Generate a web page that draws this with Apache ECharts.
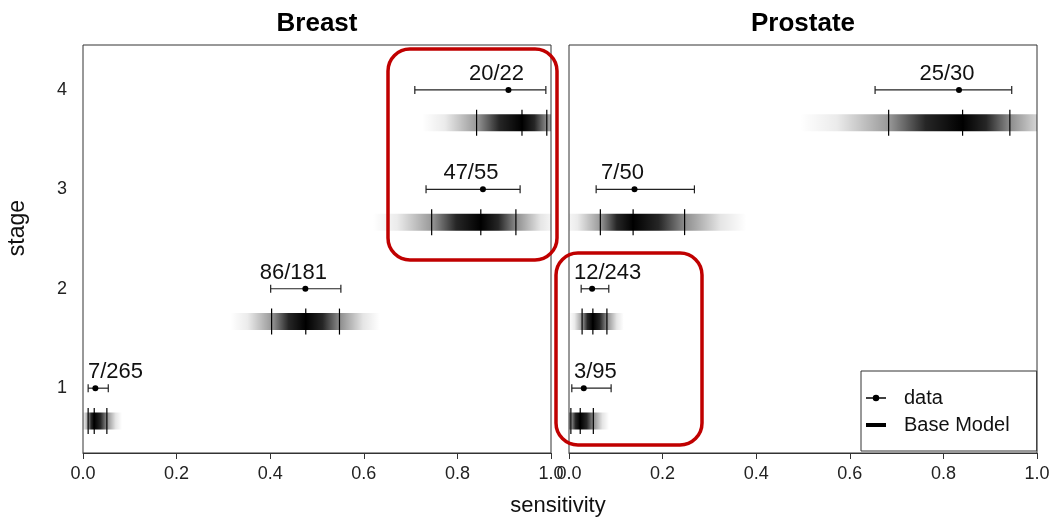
<!DOCTYPE html>
<html>
<head>
<meta charset="utf-8">
<script src="https://cdn.jsdelivr.net/npm/echarts@6/dist/echarts.min.js"></script>
<style>
html, body { margin: 0; padding: 0; background: #fff; }
#main { width: 1053px; height: 519px; }
</style>
</head>
<body>
<div id="main"></div>
<script>
// stages on the y axis
var stages = [1, 2, 3, 4];

// Breast: detected / total, data CI, base model interval (lo, median, hi)
var breastPos = [7, 86, 47, 20];
var breastTotal = [265, 181, 55, 22];
var breastCiLo = [0.011, 0.401, 0.733, 0.709];
var breastCiHi = [0.054, 0.551, 0.934, 0.989];
var breastModelLo = [0.011, 0.403, 0.745, 0.841];
var breastModelMid = [0.024, 0.476, 0.850, 0.938];
var breastModelHi = [0.051, 0.548, 0.925, 0.991];

// Prostate
var prostatePos = [3, 12, 7, 25];
var prostateTotal = [95, 243, 50, 30];
var prostateCiLo = [0.006, 0.026, 0.058, 0.654];
var prostateCiHi = [0.090, 0.085, 0.268, 0.946];
var prostateModelLo = [0.004, 0.028, 0.067, 0.683];
var prostateModelMid = [0.024, 0.051, 0.137, 0.841];
var prostateModelHi = [0.052, 0.081, 0.247, 0.942];

var FONT = '"Liberation Sans", Arial, sans-serif';
// shading of the model bar, position in units of (mid-lo) / (hi-mid)
var SHADE = [[-2.2, 0], [-1.7, 0.08], [-1, 0.4], [-0.5, 0.85], [0, 1], [0.5, 0.85], [1, 0.45], [1.7, 0.1], [2.2, 0]];
var MODEL_OFFSET = 0.33;
var LABEL_SIZE = 22;

var measureCtx = document.createElement('canvas').getContext('2d');
function textWidth(txt, size) {
    measureCtx.font = size + 'px ' + FONT;
    return measureCtx.measureText(txt).width;
}

function modelData(lo, mid, hi) {
    return stages.map(function (s, i) { return [s, lo[i], mid[i], hi[i]]; });
}
function pointData(pos, total, lo, hi) {
    return stages.map(function (s, i) { return [s, pos[i] / total[i], lo[i], hi[i]]; });
}

function renderModel(params, api) {
    var y = api.value(0) - MODEL_OFFSET;
    var lo = api.value(1), mid = api.value(2), hi = api.value(3);
    var a = mid + SHADE[0][0] * (mid - lo);
    var b = mid + SHADE[SHADE.length - 1][0] * (hi - mid);
    var pA = api.coord([a, y]), pB = api.coord([b, y]);
    var cs = params.coordSys;
    var x0 = Math.max(pA[0], cs.x), x1 = Math.min(pB[0], cs.x + cs.width);
    var stops = SHADE.map(function (s) {
        var v = mid + s[0] * (s[0] < 0 ? mid - lo : hi - mid);
        return { offset: (v - a) / (b - a), color: 'rgba(0,0,0,' + s[1] + ')' };
    });
    var barH = 17, tickH = 26;
    var cy = pA[1];
    var children = [{
        type: 'rect',
        shape: { x: x0, y: cy - barH / 2, width: x1 - x0, height: barH },
        style: { fill: new echarts.graphic.LinearGradient(pA[0], 0, pB[0], 0, stops, true) }
    }];
    [lo, mid, hi].forEach(function (v) {
        var p = api.coord([v, y]);
        children.push({
            type: 'line',
            shape: { x1: p[0], y1: cy - tickH / 2, x2: p[0], y2: cy + tickH / 2 },
            style: { stroke: '#000', lineWidth: 1.2 }
        });
    });
    return { type: 'group', children: children };
}

function makeRenderData(pos, total) {
    return function (params, api) {
        var y = api.value(0), p = api.value(1);
        var c = api.coord([p, y]), l = api.coord([api.value(2), y]), h = api.coord([api.value(3), y]);
        var cs = params.coordSys;
        var txt = pos[params.dataIndex] + '/' + total[params.dataIndex];
        var w = textWidth(txt, LABEL_SIZE);
        var left = Math.max(cs.x + 5, c[0] - 12 - w / 2);
        var st = { stroke: '#222', lineWidth: 1.2 };
        return {
            type: 'group',
            children: [
                { type: 'line', shape: { x1: l[0], y1: c[1], x2: h[0], y2: c[1] }, style: st },
                { type: 'line', shape: { x1: l[0], y1: c[1] - 4, x2: l[0], y2: c[1] + 4 }, style: st },
                { type: 'line', shape: { x1: h[0], y1: c[1] - 4, x2: h[0], y2: c[1] + 4 }, style: st },
                { type: 'circle', shape: { cx: c[0], cy: c[1], r: 3 }, style: { fill: '#000' } },
                {
                    type: 'text', x: left, y: c[1] - 5,
                    style: { text: txt, font: LABEL_SIZE + 'px ' + FONT, fill: '#111', align: 'left', verticalAlign: 'bottom' }
                }
            ]
        };
    };
}

var myChart = echarts.init(document.getElementById('main'));

function xAxisCfg(idx) {
    return {
        type: 'value', gridIndex: idx, min: 0, max: 1, interval: 0.2,
        axisLine: { show: true, onZero: false, lineStyle: { color: '#333', width: 1 } },
        axisTick: { show: true, length: 6, lineStyle: { color: '#333' } },
        axisLabel: {
            show: true, showMinLabel: true, showMaxLabel: true, margin: 12,
            fontSize: 18, fontFamily: FONT, color: '#222',
            formatter: function (v) { return v.toFixed(1); }
        },
        splitLine: { show: false }
    };
}
function yAxisCfg(idx, labels) {
    return {
        type: 'value', gridIndex: idx, min: 0.348, max: 4.452,
        axisLine: { show: false },
        axisTick: { show: false },
        axisLabel: {
            show: labels, customValues: stages, margin: 16,
            fontSize: 18, fontFamily: FONT, color: '#222'
        },
        splitLine: { show: false }
    };
}

var option = {
    animation: false,
    backgroundColor: '#fff',
    grid: [
        { left: 83, top: 45, width: 468, height: 408, show: true, borderColor: '#333', borderWidth: 1, backgroundColor: 'transparent' },
        { left: 569, top: 45, width: 468, height: 408, show: true, borderColor: '#333', borderWidth: 1, backgroundColor: 'transparent' }
    ],
    xAxis: [xAxisCfg(0), xAxisCfg(1)],
    yAxis: [yAxisCfg(0, true), yAxisCfg(1, false)],
    legend: {
        orient: 'vertical',
        left: 861, top: 371,
        padding: [17, 27, 16, 5],
        itemGap: 7,
        itemWidth: 20, itemHeight: 20,
        backgroundColor: '#fff',
        borderColor: '#333', borderWidth: 1, borderRadius: 0,
        textStyle: { fontSize: 20, fontFamily: FONT, color: '#111', padding: [0, 0, 0, 13] },
        data: [
            { name: 'data', icon: 'path://M2,9.4L18,9.4L18,10.6L2,10.6ZM7.4,10a2.6,2.6 0 1,1 5.2,0a2.6,2.6 0 1,1 -5.2,0Z' },
            { name: 'Base Model', icon: 'path://M0,8L20,8L20,12L0,12Z' }
        ]
    },
    graphic: [
        { type: 'text', x: 317, y: 24, style: { text: 'Breast', font: 'bold 26px ' + FONT, fill: '#000', align: 'center', verticalAlign: 'middle' } },
        { type: 'text', x: 803, y: 24, style: { text: 'Prostate', font: 'bold 26px ' + FONT, fill: '#000', align: 'center', verticalAlign: 'middle' } },
        { type: 'text', x: 558, y: 506, style: { text: 'sensitivity', font: '22px ' + FONT, fill: '#111', align: 'center', verticalAlign: 'middle' } },
        { type: 'text', x: 18, y: 228, rotation: Math.PI / 2, style: { text: 'stage', font: '23px ' + FONT, fill: '#111', align: 'center', verticalAlign: 'middle' } },
        // highlight boxes
        { type: 'rect', z: 100, shape: { x: 388, y: 49, width: 169, height: 211, r: 22 }, style: { fill: 'none', stroke: '#c00000', lineWidth: 3.5 } },
        { type: 'rect', z: 100, shape: { x: 556, y: 253, width: 146, height: 192, r: 22 }, style: { fill: 'none', stroke: '#c00000', lineWidth: 3.5 } }
    ],
    series: [
        {
            name: 'Base Model', type: 'custom', xAxisIndex: 0, yAxisIndex: 0, clip: false,
            itemStyle: { color: '#000' },
            renderItem: renderModel,
            data: modelData(breastModelLo, breastModelMid, breastModelHi)
        },
        {
            name: 'Base Model', type: 'custom', xAxisIndex: 1, yAxisIndex: 1, clip: false,
            itemStyle: { color: '#000' },
            renderItem: renderModel,
            data: modelData(prostateModelLo, prostateModelMid, prostateModelHi)
        },
        {
            name: 'data', type: 'custom', xAxisIndex: 0, yAxisIndex: 0, clip: false,
            itemStyle: { color: '#000' },
            renderItem: makeRenderData(breastPos, breastTotal),
            data: pointData(breastPos, breastTotal, breastCiLo, breastCiHi)
        },
        {
            name: 'data', type: 'custom', xAxisIndex: 1, yAxisIndex: 1, clip: false,
            itemStyle: { color: '#000' },
            renderItem: makeRenderData(prostatePos, prostateTotal),
            data: pointData(prostatePos, prostateTotal, prostateCiLo, prostateCiHi)
        }
    ]
};
myChart.setOption(option);
</script>
</body>
</html>
